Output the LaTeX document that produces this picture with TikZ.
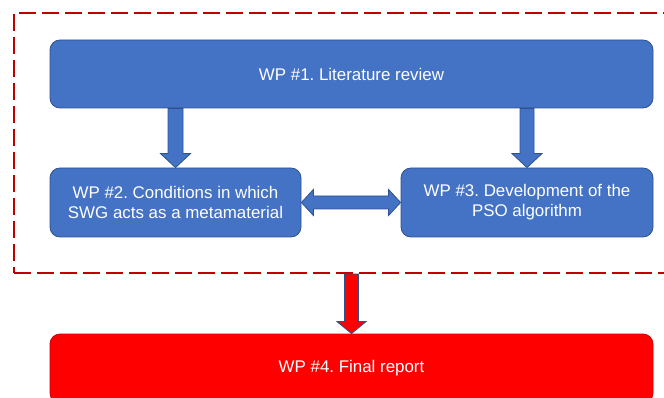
\documentclass[tikz,border=0pt]{standalone}
\usepackage{fontspec}
\setmainfont{Liberation Sans}
\frenchspacing
\usetikzlibrary{calc}
\definecolor{wpblue}{HTML}{4472C4}
\definecolor{wpedge}{HTML}{2F528F}
\definecolor{wpred}{HTML}{FF0000}
\definecolor{framered}{HTML}{C00000}
\tikzset{
  wpbox/.style={draw=wpedge, line width=0.8pt, fill=wpblue, rounded corners=10pt,
    text=white, align=center, inner sep=0pt,
    font=\fontsize{16.9}{20}\selectfont},
  finalbox/.style={wpbox, fill=wpred, draw=wpred!80!black},
  frame/.style={draw=framered, line width=2pt, dash pattern=on 17pt off 6pt,
    inner sep=0pt},
  blockarrow/.style={draw=wpedge, line width=0.8pt, fill=wpblue, line join=miter},
  redarrow/.style={blockarrow, fill=wpred},
}
% vertical block arrow: #1 style, #2 start, #3 tip, #4 shaft half-width,
% #5 head half-width, #6 head length
\newcommand\vblockarrow[6]{%
  \draw[#1] let \p1=(#2), \p2=(#3) in
    (\x1-#4,\y1) -- (\x1+#4,\y1) -- (\x1+#4,\y2+#6) -- (\x1+#5,\y2+#6)
    -- (\x1,\y2) -- (\x1-#5,\y2+#6) -- (\x1-#4,\y2+#6) -- cycle;}
% horizontal double-headed block arrow: #1 style, #2 left tip, #3 right tip
\newcommand\hdoublearrow[3]{%
  \draw[#1] let \p1=(#2), \p2=(#3) in
    (\x1,\y1) -- (\x1+12pt,\y1+13pt) -- (\x1+12pt,\y1+6.5pt)
    -- (\x2-12pt,\y1+6.5pt) -- (\x2-12pt,\y1+13pt) -- (\x2,\y1)
    -- (\x2-12pt,\y1-13pt) -- (\x2-12pt,\y1-6.5pt) -- (\x1+12pt,\y1-6.5pt)
    -- (\x1+12pt,\y1-13pt) -- cycle;}
\begin{document}
\begin{tikzpicture}[x=1pt, y=-1pt]
  \useasboundingbox (0,0) rectangle (664,398);
  \clip (0,0) rectangle (664,398);

  % dashed frame around the first three work packages
  \node[frame, minimum width=686pt, minimum height=260pt] (frame) at (357,143) {};

  \node[wpbox, minimum width=603pt, minimum height=68pt] (wp1) at (351.5,74)
    {WP \#1. Literature review};
  \node[wpbox, minimum width=251pt, minimum height=69pt] (wp2) at (175.5,202.5)
    {WP \#2. Conditions in which\\SWG acts as a metamaterial};
  \node[wpbox, minimum width=252pt, minimum height=69pt] (wp3) at (527,202.5)
    {WP \#3. Development of the\\PSO algorithm};
  \node[finalbox, minimum width=603pt, minimum height=69pt] (wp4) at (351.5,368.5)
    {WP \#4. Final report};

  % flows between the work packages
  \vblockarrow{blockarrow}{wp1.south -| wp2.north}{wp2.north}{7.5pt}{15pt}{14pt}
  \vblockarrow{blockarrow}{wp1.south -| wp3.north}{wp3.north}{7pt}{15pt}{14pt}
  \hdoublearrow{blockarrow}{wp2.east}{wp3.west}
  \vblockarrow{redarrow}{frame.south -| wp4.north}{wp4.north}{7pt}{14.5pt}{12pt}
\end{tikzpicture}
\end{document}
